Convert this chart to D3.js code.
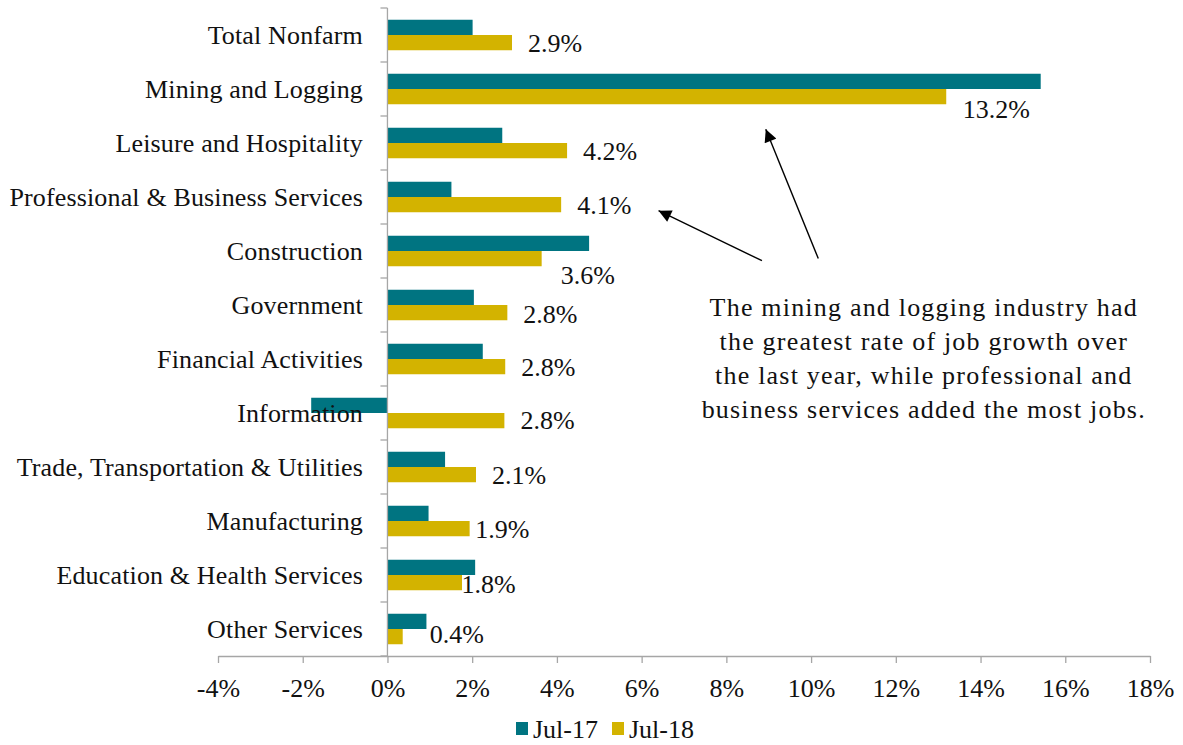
<!DOCTYPE html>
<html>
<head>
<meta charset="utf-8">
<script src="https://cdn.jsdelivr.net/npm/d3@7"></script>
<style>
  html, body { margin: 0; padding: 0; background: #fff; }
  svg { display: block; }
  text { font-family: "Liberation Serif", "Times New Roman", serif; fill: #111; }
</style>
</head>
<body>
<svg id="chart" width="1183" height="745"></svg>
<script>
// ---- data ----
const categories = [
  "Total Nonfarm", "Mining and Logging", "Leisure and Hospitality",
  "Professional & Business Services", "Construction", "Government",
  "Financial Activities", "Information", "Trade, Transportation & Utilities",
  "Manufacturing", "Education & Health Services", "Other Services"
];
const seriesNames = ["Jul-17", "Jul-18"];
const jul17 = [2.01, 15.42, 2.71, 1.51, 4.76, 2.04, 2.25, -1.80, 1.36, 0.97, 2.07, 0.92];
const jul18 = [2.94, 13.19, 4.24, 4.10, 3.64, 2.83, 2.78, 2.76, 2.09, 1.94, 1.76, 0.36];
const xTicks = [-4, -2, 0, 2, 4, 6, 8, 10, 12, 14, 16, 18];
const annotationLines = [
  "The mining and logging industry had",
  "the greatest rate of job growth over",
  "the last year, while professional and",
  "business services added the most jobs."
];
// manual label nudges (pixels) for Jul-18 data labels [dx, dy]
const labelNudge = [[0,0],[0.5,12],[0,0],[0,0],[3,16.5],[0,1],[0,0],[0,-0.5],[0,0.5],[-10.5,0],[-16.5,1],[11,-3]];

// ---- layout ----
const colors = { "Jul-17": "#007481", "Jul-18": "#D3B300" };
const axisColor = "#a6a6a6";
const fontSize = 26;

const svg = d3.select("#chart");
const x = d3.scaleLinear().domain([-4, 18]).range([218, 1150]);
const y0 = d3.scaleBand().domain(categories).range([8, 656]).padding(0);
const y1 = d3.scaleBand().domain(seriesNames).range([0, y0.bandwidth()]).paddingInner(0).paddingOuter(0.77);

const rows = categories.map((c, i) => ({ cat: c, i, vals: [jul17[i], jul18[i]] }));

// bars
const g = svg.append("g");
rows.forEach(r => {
  seriesNames.forEach((s, k) => {
    const v = r.vals[k];
    g.append("rect")
      .attr("x", x(Math.min(0, v)))
      .attr("y", y0(r.cat) + y1(s))
      .attr("width", Math.abs(x(v) - x(0)))
      .attr("height", y1.bandwidth())
      .attr("fill", colors[s]);
  });
});

// vertical (category) axis
svg.append("line").attr("x1", x(0)).attr("x2", x(0))
  .attr("y1", y0.range()[0]).attr("y2", y0.range()[1])
  .attr("stroke", axisColor).attr("stroke-width", 1.3);
const bounds = categories.map(c => y0(c)).concat([y0.range()[1]]);
svg.selectAll(".ytick").data(bounds).enter().append("line")
  .attr("x1", x(0) - 7).attr("x2", x(0))
  .attr("y1", d => d).attr("y2", d => d)
  .attr("stroke", axisColor).attr("stroke-width", 1.3);

// category labels
svg.selectAll(".ylab").data(categories).enter().append("text")
  .attr("x", 363)
  .attr("y", d => y0(d) + y0.bandwidth() / 2)
  .attr("dy", "0.34em")
  .attr("text-anchor", "end")
  .style("font-size", fontSize + "px")
  .style("letter-spacing", "0.15px")
  .text(d => d);

// x axis
const xAxis = d3.axisBottom(x).tickValues(xTicks).tickSize(7).tickSizeOuter(0)
  .tickPadding(16).tickFormat(d => d + "%");
const xg = svg.append("g").attr("transform", `translate(0,${y0.range()[1]})`).call(xAxis);
xg.select(".domain").attr("stroke", axisColor).attr("stroke-width", 1.3);
xg.selectAll(".tick line").attr("stroke", axisColor).attr("stroke-width", 1.3);
xg.selectAll(".tick text")
  .style("font-size", fontSize + "px")
  .style("font-family", "'Liberation Serif', serif")
  .attr("fill", "#111");

// data labels for Jul-18
svg.selectAll(".dlab").data(rows).enter().append("text")
  .attr("x", d => x(d.vals[1]) + 16 + labelNudge[d.i][0])
  .attr("y", d => y0(d.cat) + y1("Jul-18") + y1.bandwidth() / 2 + labelNudge[d.i][1])
  .attr("dy", "0.36em")
  .style("font-size", fontSize + "px")
  .text(d => d.vals[1].toFixed(1) + "%");

// legend
const legend = svg.append("g");
const legendItems = [
  { name: "Jul-17", sx: 516, tx: 533 },
  { name: "Jul-18", sx: 612, tx: 629 }
];
legendItems.forEach(it => {
  legend.append("rect").attr("x", it.sx).attr("y", 722).attr("width", 12).attr("height", 13)
    .attr("fill", colors[it.name]);
  legend.append("text").attr("x", it.tx).attr("y", 738)
    .style("font-size", fontSize + "px")
    .text(it.name);
});

// annotation arrows (anchored in data space)
const defs = svg.append("defs");
defs.append("marker").attr("id", "ah").attr("viewBox", "0 0 10 10")
  .attr("refX", 10).attr("refY", 5).attr("markerWidth", 10).attr("markerHeight", 9)
  .attr("markerUnits", "strokeWidth").attr("orient", "auto")
  .append("path").attr("d", "M0,0 L10,5 L0,10 Z").attr("fill", "#000");
const bandPos = (cat, f) => y0(cat) + f * y0.bandwidth();
const arrows = [
  { x1: 8.84, y1: bandPos("Construction", 0.68), x2: 6.40, y2: bandPos("Professional & Business Services", 0.754) },
  { x1: 10.17, y1: bandPos("Construction", 0.64), x2: 8.93, y2: bandPos("Leisure and Hospitality", 0.246) }
];
arrows.forEach(a => {
  svg.append("line")
    .attr("x1", x(a.x1)).attr("y1", a.y1).attr("x2", x(a.x2)).attr("y2", a.y2)
    .attr("stroke", "#000").attr("stroke-width", 1.4)
    .attr("marker-end", "url(#ah)");
});

// annotation text
const annX = x(12.66);
const annY = bandPos("Government", 0.537);
const ann = svg.append("text").attr("text-anchor", "middle")
  .style("font-size", fontSize + "px").style("letter-spacing", "1.2px");
annotationLines.forEach((line, i) => {
  ann.append("tspan").attr("x", annX).attr("y", annY + i * 34).attr("dy", "0.33em").text(line);
});
</script>
</body>
</html>
